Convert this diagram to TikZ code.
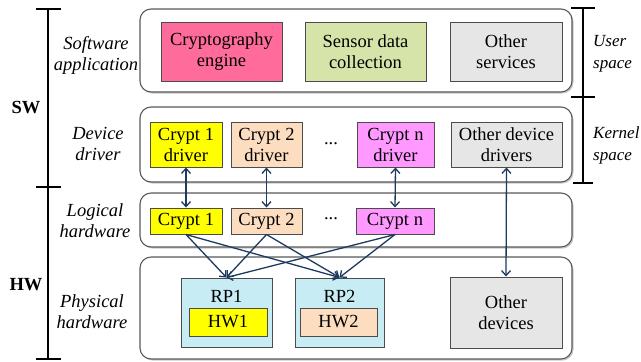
\documentclass[tikz,border=0pt]{standalone}
\usepackage{fontspec}
\setmainfont{Liberation Serif}
\usetikzlibrary{arrows.meta,shadows}
\definecolor{arr}{HTML}{1F3A5F}
\definecolor{cpink}{HTML}{FF6C9C}
\definecolor{cgreen}{HTML}{D6E4AA}
\definecolor{cgray}{HTML}{E6E6E6}
\definecolor{cyel}{HTML}{FFFF00}
\definecolor{cpeach}{HTML}{FCDDC0}
\definecolor{cviol}{HTML}{FF99FF}
\definecolor{cblue}{HTML}{C8ECF4}
\tikzset{
  every node/.style={font=\fontsize{18.5bp}{21bp}\selectfont, inner sep=0pt},
  layer/.style={draw=black!65, line width=1.1pt, rounded corners=11bp, fill=white,
    drop shadow={shadow xshift=1.5bp, shadow yshift=-1.5bp, fill=black!35, opacity=0.6}},
  cbox/.style={draw=black!70, line width=1pt, align=center,
    drop shadow={shadow xshift=1bp, shadow yshift=-1bp, fill=black!45, opacity=0.6}},
  side/.style={font=\fontsize{18.5bp}{21bp}\selectfont\itshape, align=center},
  rside/.style={font=\fontsize{17bp}{22bp}\selectfont\itshape, align=left, anchor=west},
  conn/.style={draw=arr, line width=1.3pt, arrows={-Straight Barb[length=5bp,width=9bp]}},
  dconn/.style={draw=arr, line width=1.3pt, arrows={Straight Barb[length=5bp,width=9bp]-Straight Barb[length=5bp,width=9bp]}}
}
\begin{document}
\begin{tikzpicture}[x=1bp,y=-1bp]
\useasboundingbox (0,0) rectangle (641,361);
% layers
\path[layer] (140,9) rectangle (572,92);
\path[layer] (140,107) rectangle (572,182);
\path[layer] (140,193) rectangle (572,247);
\path[layer] (140,257) rectangle (572,359);
% brackets
\coordinate (lt) at (48,9); \coordinate (lm) at (48,187); \coordinate (lb) at (48,359);
\draw[line width=2.2pt] (lt) -- (lb);
\draw[line width=2.2pt] (36,9) -- (61,9) (36,187) -- (61,187) (36,359) -- (61,359);
\coordinate (rt) at (583,8); \coordinate (rb) at (583,183);
\draw[line width=1.1pt] (rt) -- (rb);
\draw[line width=1.1pt] (571,8) -- (595,8) (571,97) -- (595,97) (573,183) -- (593,183);
% side labels
\node[font=\fontsize{18.5bp}{21bp}\selectfont\bfseries] (sw) at (26,108) {SW};
\node[font=\fontsize{18.5bp}{21bp}\selectfont\bfseries] (hw) at (26,285) {HW};
\node[side] (lsa) at (96,55) {Software\\application};
\node[side] (ldd) at (98,144) {Device\\driver};
\node[side] (llh) at (95,221) {Logical\\hardware};
\node[side] (lph) at (92,312) {Physical\\hardware};
\node[rside] (us) at (593,54) {User\\space};
\node[rside] (ks) at (593,145) {Kernel\\space};
% software application
\node[cbox, fill=cpink, minimum width=121bp, minimum height=59bp] (ce) at (221.5,51.5) {Cryptography\\engine};
\node[cbox, fill=cgreen, minimum width=121bp, minimum height=59bp] (sd) at (365.5,51.5) {Sensor data\\collection};
\node[cbox, fill=cgray, minimum width=112bp, minimum height=59bp] (os) at (506,51.5) {Other\\services};
% drivers
\node[cbox, fill=cyel, minimum width=72bp, minimum height=45bp] (d1) at (186,144.5) {Crypt 1\\driver};
\node[cbox, fill=cpeach, minimum width=71bp, minimum height=45bp] (d2) at (266.5,144.5) {Crypt 2\\driver};
\node (dd) at (331,144) {...};
\node[cbox, fill=cviol, minimum width=77bp, minimum height=45bp] (dn) at (395.5,144.5) {Crypt n\\driver};
\node[cbox, fill=cgray, minimum width=111bp, minimum height=45bp] (dod) at (506.5,144.5) {Other device\\drivers};
% logical
\node[cbox, fill=cyel, minimum width=72bp, minimum height=26bp] (l1) at (186,221) {Crypt 1};
\node[cbox, fill=cpeach, minimum width=71bp, minimum height=26bp] (l2) at (266.5,221) {Crypt 2};
\node (ld) at (331,219) {...};
\node[cbox, fill=cviol, minimum width=78bp, minimum height=26bp] (ln) at (395,221) {Crypt n};
% physical
\node[cbox, fill=cblue, minimum width=91bp, minimum height=69bp] (rp1) at (226.5,312.5) {};
\node (rp1t) at (226.5,296) {RP1};
\node[cbox, fill=cyel, minimum width=78bp, minimum height=28bp] (hw1) at (228,322) {HW1};
\node[cbox, fill=cblue, minimum width=89bp, minimum height=69bp] (rp2) at (339.5,312.5) {};
\node (rp2t) at (339.5,296) {RP2};
\node[cbox, fill=cpeach, minimum width=77bp, minimum height=28bp] (hw2) at (338.5,322) {HW2};
\node[cbox, fill=cgray, minimum width=112bp, minimum height=71bp] (od) at (506,312.5) {Other\\devices};
% connectors
\draw[dconn] (d1.south) -- (l1.north);
\draw[dconn] (d2.south) -- (l2.north);
\draw[dconn] (dn.south) -- (ln.north);
\draw[dconn] (dod.south) -- (od.north);
\foreach \s in {l1,l2,ln}{
  \draw[conn] (\s.south) -- (rp1.north);
  \draw[conn] (\s.south) -- (rp2.north);
}
\end{tikzpicture}
\end{document}
